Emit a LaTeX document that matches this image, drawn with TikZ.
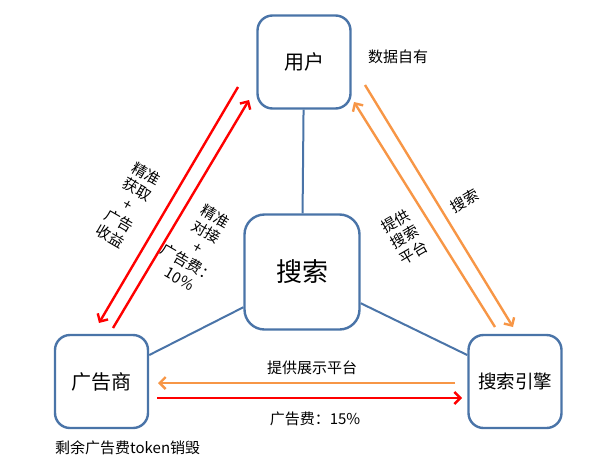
\documentclass[tikz,border=0pt]{standalone}
\usepackage{fontspec}
\setmainfont{Noto Sans CJK SC}
\usetikzlibrary{arrows.meta}
\definecolor{boxblue}{RGB}{74,116,168}
\definecolor{flowred}{RGB}{255,0,0}
\definecolor{floworange}{RGB}{247,150,70}

\begin{document}
\begin{tikzpicture}[x=1pt,y=-1pt,party/.style={draw=boxblue,line width=2.4pt,rounded corners=15pt,fill=white,minimum width=93pt,minimum height=93pt,inner sep=0pt,font=\fontsize{20}{24}\selectfont},link/.style={draw=boxblue,line width=2pt},flow/.style={line width=2.4pt,-{Straight Barb[length=6pt,width=12pt]}},note/.style={font=\fontsize{15}{18}\selectfont,align=center,inner sep=0pt}]
\useasboundingbox (0,0) rectangle (596,474);
\node[party] (user) at (304,62) {用户};
\node[party, minimum width=115pt, minimum height=115pt, rounded corners=20pt, font=\fontsize{26}{30}\selectfont] (search) at (302,272) {搜索};
\node[party] (adv) at (101.5,381.5) {广告商};
\node[party, font=\fontsize{18.5}{22}\selectfont] (engine) at (515,381.5) {搜索引擎};

\draw[link] (user) -- (search);
\draw[link] (search.211) -- (adv.29);
\draw[link] (search.332) -- (engine.151);

% flow ends
\coordinate (redA1) at (238,87);
\coordinate (redA2) at (99,323);
\coordinate (redB1) at (113,328);
\coordinate (redB2) at (249,100);
\coordinate (orgA1) at (365,85);
\coordinate (orgA2) at (513,327);
\coordinate (orgB1) at (495,327);
\coordinate (orgB2) at (354,102);
\coordinate (orgC1) at (455,383);
\coordinate (orgC2) at (158,383);
\coordinate (redC1) at (157,398);
\coordinate (redC2) at (462,398);

\foreach \i/\j/\c in {redA1/redA2/flowred,redB1/redB2/flowred,orgA1/orgA2/floworange,orgB1/orgB2/floworange,orgC1/orgC2/floworange,redC1/redC2/flowred} {
  \draw[flow,\c] (\i) -- (\j);
}
% labels
\node[note] (own) at (398,57) {数据自有};
\node[note, rotate=-30] (gain) at (128,205) {精准\\获取\\+\\广告\\收益};
\node[note, rotate=-30] (pay) at (198,247) {精准\\对接\\+\\广告费：\\10\%};
\node[note, rotate=30] (platform) at (405,237) {提供\\搜索\\平台};
\node[note, rotate=30] (query) at (465,201) {搜索};
\node[note] (show) at (312,368) {提供展示平台};
\node[note] (fee) at (315,419) {广告费：15\%};
\node[note, anchor=west] (burn) at (55,448) {剩余广告费token销毁};
\end{tikzpicture}
\end{document}
